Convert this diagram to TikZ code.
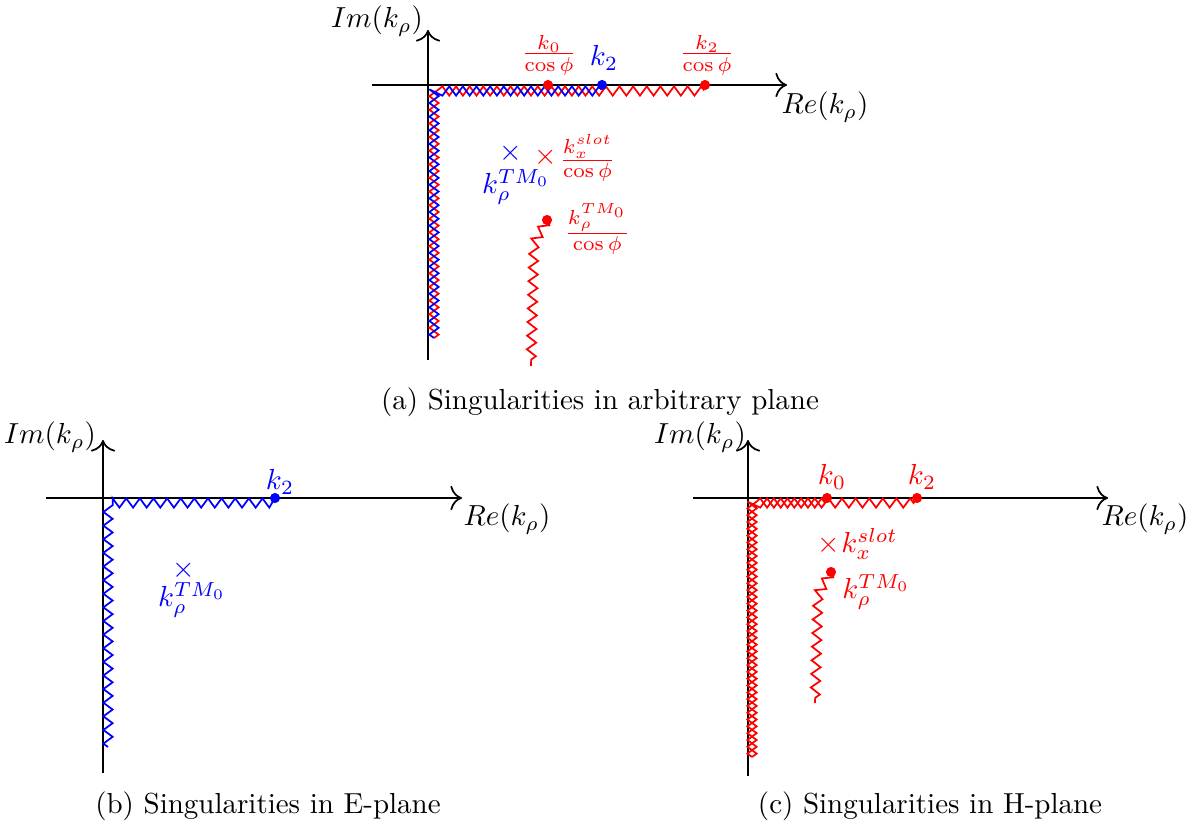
\documentclass[tikz,border=0pt]{standalone}
\usetikzlibrary{arrows.meta,decorations.pathmorphing}

\begin{document}
\begin{tikzpicture}[x=0.345pt,y=-0.345pt,axis/.style={-{To[length=4pt]},line width=0.6pt},cutb/.style={blue,line width=0.6pt,decorate,decoration={zigzag,segment length=4.7pt,amplitude=1.6pt}},cutr/.style={red,line width=0.6pt,decorate,decoration={zigzag,segment length=4.7pt,amplitude=-1.6pt}},cutrr/.style={red,line width=0.6pt,decorate,decoration={zigzag,segment length=4.7pt,amplitude=1.6pt}},pole/.style={circle,fill,inner sep=0pt,minimum size=3.4pt},zero/.style={inner sep=0pt}]
\useasboundingbox (0,0) rectangle (1197,825);
\coordinate (A0) at (428,360);
\coordinate (A1) at (428,30);
\coordinate (A2) at (372,85);
\coordinate (A3) at (787,85);
\coordinate (Ac) at (434,91);
\coordinate (Ab) at (434,330);
\coordinate (Ar) at (434,338);
\coordinate (Ad) at (600,91);
\coordinate (Adr) at (703,91);
\coordinate (Ak) at (534,243);
\coordinate (Ae) at (531,366);
\coordinate (B0) at (103,773);
\coordinate (B1) at (103,440);
\coordinate (B2) at (46,498);
\coordinate (B3) at (462,498);
\coordinate (Bc) at (108,503);
\coordinate (Bb) at (108,747);
\coordinate (Bd) at (272,503);
\coordinate (C0) at (748,776);
\coordinate (C1) at (748,440);
\coordinate (C2) at (693,498);
\coordinate (C3) at (1108,498);
\coordinate (Cc) at (752,503);
\coordinate (Cb) at (752,757);
\coordinate (Cd) at (824,503);
\coordinate (Cdr) at (914,503);
\coordinate (Ck) at (818,594);
\coordinate (Ce) at (815,703);
\node[pole,red] (a0) at (548,85) {};
\node[pole,blue] (a2) at (602,85) {};
\node[pole,red] (a2r) at (705,85) {};
\node[pole,red] (atm) at (547,220) {};
\node[zero,blue] (ax) at (511,153) {$\times$};
\node[zero,red] (as) at (546,157) {$\times$};
\node[pole,blue] (b2) at (275,498) {};
\node[zero,blue] (bx) at (184,570) {$\times$};
\node[pole,red] (c0) at (827,498) {};
\node[pole,red] (c2) at (917,498) {};
\node[pole,red] (ctm) at (831,572) {};
\node[zero,red] (cs) at (829,545) {$\times$};
\draw[axis] (A0) -- (A1);
\draw[axis] (A2) -- (A3);
\draw[cutr] (Ar) -- (Ac) -- (Adr) -- (a2r.center);
\draw[cutb] (Ar) -- (Ac) -- (Ad) -- (a2.center);
\draw[cutrr] (atm.center) -- (Ak) -- (Ae);
\draw[axis] (B0) -- (B1);
\draw[axis] (B2) -- (B3);
\draw[cutb] (Bb) -- (Bc) -- (Bd) -- (b2.center);
\draw[axis] (C0) -- (C1);
\draw[axis] (C2) -- (C3);
\draw[cutrr] (Cb) -- (Cc) -- (Cdr) -- (c2.center);
\draw[cutr] (Cb) -- (Cc) -- (Cd) -- (c0.center);
\draw[cutrr] (ctm.center) -- (Ck) -- (Ce);
\node[pole,red] at (a0) {};
\node[pole,blue] at (a2) {};
\node[pole,red] at (a2r) {};
\node[pole,red] at (atm) {};
\node[pole,blue] at (b2) {};
\node[pole,red] at (c0) {};
\node[pole,red] at (c2) {};
\node[pole,red] at (ctm) {};
\node (aim) at (377,21) {$Im(k_\rho)$};
\node (are) at (825,107) {$Re(k_\rho)$};
\node[red] (la0) at (549,55) {$\frac{k_0}{\cos\phi}$};
\node[blue] (la2) at (604,58) {$k_2$};
\node[red] (la2r) at (707,55) {$\frac{k_2}{\cos\phi}$};
\node[blue,inner sep=1pt] (lax) at (516,187) {$k_\rho^{TM_0}$};
\node[red,anchor=west,inner sep=1pt] (las) at (556,158) {$\frac{k_x^{slot}}{\cos\phi}$};
\node[red,anchor=west,inner sep=1pt] (latm) at (561,229) {$\frac{k_\rho^{TM_0}}{\cos\phi}$};
\node (capa) at (600,402) {(a) Singularities in arbitrary plane};
\node (bim) at (50,437) {$Im(k_\rho)$};
\node (bre) at (507,519) {$Re(k_\rho)$};
\node[blue] (lb2) at (280,482) {$k_2$};
\node[blue,inner sep=1pt] (lbx) at (192,600) {$k_\rho^{TM_0}$};
\node (capb) at (268,806) {(b) Singularities in E-plane};
\node (cim) at (700,437) {$Im(k_\rho)$};
\node (cre) at (1145,519) {$Re(k_\rho)$};
\node[red] (lc0) at (832,477) {$k_0$};
\node[red] (lc2) at (922,477) {$k_2$};
\node[red,anchor=west,inner sep=1pt] (lcs) at (838,544) {$k_x^{slot}$};
\node[red,anchor=west,inner sep=1pt] (lctm) at (839,592) {$k_\rho^{TM_0}$};
\node (capc) at (930,806) {(c) Singularities in H-plane};
\end{tikzpicture}
\end{document}
